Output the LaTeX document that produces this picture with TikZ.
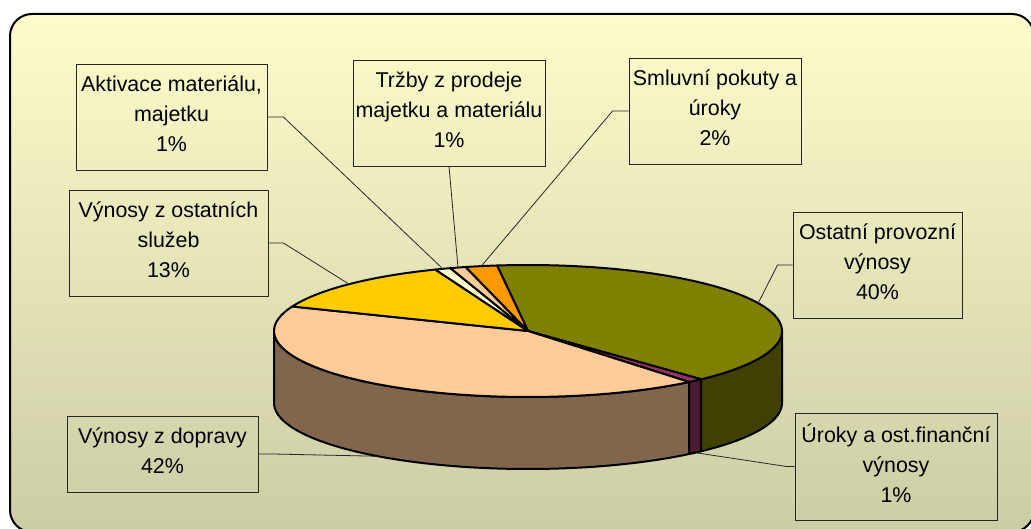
\documentclass[tikz,border=0pt]{standalone}
\usepackage{fontspec}
\setmainfont{Liberation Sans}

% colours of the chart
\definecolor{olivetop}{RGB}{128,128,0}
\definecolor{oliveside}{RGB}{64,64,0}
\definecolor{plumtop}{RGB}{153,51,102}
\definecolor{plumside}{RGB}{77,26,51}
\definecolor{peachtop}{RGB}{255,204,153}
\definecolor{peachside}{RGB}{128,102,77}
\definecolor{goldtop}{RGB}{255,204,0}
\definecolor{creamtop}{RGB}{255,255,204}
\definecolor{orangetop}{RGB}{255,153,0}
\definecolor{bgtop}{RGB}{253,252,202}
\definecolor{bgbottom}{RGB}{204,204,166}

% extra depth under the last line of a label, lifts the text a little
\newcommand\lowstrut{\rule[-6.5pt]{0pt}{6.5pt}}

% pie geometry: centre, radii of the top ellipse, height of the side wall
\def\cx{528}
\def\cy{331}
\def\rx{254}
\def\ry{66}
\def\dep{72}

% one wedge of the top face, angles in the plane of the pie
\newcommand\wedgetop[3]{%
  \filldraw[pieline, fill=#1] (\cx,\cy) --
    plot[domain=#2:#3, variable=\t, samples=60] ({\cx+\rx*cos(\t)},{\cy-\ry*sin(\t)}) -- cycle;}
% one piece of the front wall
\newcommand\wedgeside[3]{%
  \filldraw[pieline, fill=#1]
    plot[domain=#2:#3, variable=\t, samples=60] ({\cx+\rx*cos(\t)},{\cy-\ry*sin(\t)}) --
    plot[domain=#3:#2, variable=\t, samples=60] ({\cx+\rx*cos(\t)},{\cy+\dep-\ry*sin(\t)}) -- cycle;}

\begin{document}
\begin{tikzpicture}[x=1pt, y=-1pt,
  pieline/.style={draw=black, line width=2pt, line join=round},
  leader/.style={draw=black!85, line width=0.8pt},
  lbl/.style={draw=black!85, line width=0.9pt, align=center, inner sep=0pt,
    font=\fontsize{21.4}{30}\selectfont}]

\useasboundingbox (0,0) rectangle (1031,529);

% chart area
\shade[top color=bgtop, bottom color=bgbottom, rounded corners=22pt]
  (10,14) rectangle (1034,532);
\draw[line width=2pt, rounded corners=22pt] (10,14) rectangle (1034,532);

% front wall
\wedgeside{peachside}{180}{309.4}
\wedgeside{plumside}{309.4}{313}
\wedgeside{oliveside}{313}{360}

% top face
\wedgetop{olivetop}{-47}{97}
\wedgetop{plumtop}{-50.6}{-47}
\wedgetop{peachtop}{158.2}{309.4}
\wedgetop{goldtop}{111.4}{158.2}
\wedgetop{creamtop}{107.8}{111.4}
\wedgetop{peachtop}{104.2}{107.8}
\wedgetop{orangetop}{97}{104.2}

% ends of the leader lines, at the middle of each slice
\coordinate (pAkt) at ({\cx+\rx*cos(109.6)},{\cy-\ry*sin(109.6)});
\coordinate (pTrz) at ({\cx+\rx*cos(106)},{\cy-\ry*sin(106)});
\coordinate (pSml) at ({\cx+\rx*cos(100.6)},{\cy-\ry*sin(100.6)});
\coordinate (pVos) at ({\cx+\rx*cos(134.8)},{\cy-\ry*sin(134.8)});
\coordinate (pOpv) at ({\cx+\rx*cos(25)},{\cy-\ry*sin(25)});
\coordinate (pUrk) at ({\cx+\rx*cos(-48.8)},{\cy+\dep-\ry*sin(-48.8)});
\coordinate (pDop) at ({\cx+\rx*cos(233.8)},{\cy+\dep-\ry*sin(233.8)});

% data labels
\node[lbl, minimum width=191pt, minimum height=106pt] (akt) at (171.5,117)
  {Aktivace materiálu,\\majetku\\1\%\lowstrut};
\node[lbl, minimum width=192pt, minimum height=106pt] (trz) at (449,113)
  {Tržby z prodeje\\majetku a materiálu\\1\%\lowstrut};
\node[lbl, minimum width=172pt, minimum height=106pt] (sml) at (715,111)
  {Smluvní pokuty a\\úroky\\2\%\lowstrut};
\node[lbl, minimum width=199pt, minimum height=106pt] (vos) at (168.5,243)
  {Výnosy z ostatních\\služeb\\13\%\lowstrut};
\node[lbl, minimum width=169pt, minimum height=106pt] (opv) at (877.5,265)
  {Ostatní provozní\\výnosy\\40\%\lowstrut};
\node[lbl, minimum width=202pt, minimum height=107pt] (urk) at (896,466.5)
  {Úroky a ost.finanční\\výnosy\\1\%\lowstrut};
\node[lbl, minimum width=191pt, minimum height=76pt] (dop) at (162.5,454)
  {Výnosy z dopravy\\42\%\lowstrut};

% leader lines
\draw[leader] (akt.east) -- ++(16,0) -- (pAkt);
\draw[leader] (trz.south) -- (pTrz);
\draw[leader] (sml.west) -- ++(-16,0) -- (pSml);
\draw[leader] (vos.east) -- ++(15,0) -- (pVos);
\draw[leader] (opv.west) -- ++(-15,0) -- (pOpv);
\draw[leader] (urk.west) -- ++(-8,0) -- (pUrk);
\draw[leader] (dop.east) -- ++(15,0) -- (pDop);

\end{tikzpicture}
\end{document}
